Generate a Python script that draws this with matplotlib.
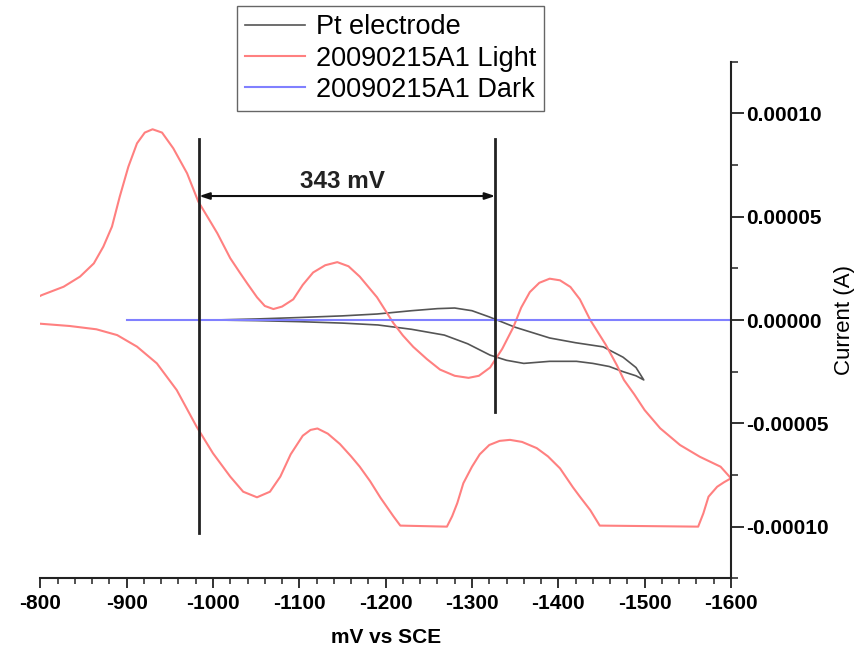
import numpy as np
import matplotlib.pyplot as plt
from matplotlib.ticker import MultipleLocator, FuncFormatter

plt.rcParams['font.family'] = ['Liberation Sans', 'DejaVu Sans']
plt.rcParams['axes.unicode_minus'] = False

# potentials in mV vs SCE, currents in units of 1e-5 A
pt_mv = [-1002, -1050, -1100, -1150, -1190, -1230, -1260, -1280, -1300, -1320,
         -1350, -1390, -1420, -1452, -1475, -1490, -1499,
         -1490, -1475, -1459, -1440, -1421, -1390, -1360, -1340, -1321, -1295,
         -1268, -1230, -1191, -1150, -1100, -1050, -1002]
pt_i = [0.0, 0.05, 0.12, 0.2, 0.29, 0.45, 0.55, 0.58, 0.45, 0.15,
        -0.35, -0.87, -1.1, -1.3, -1.8, -2.3, -2.9,
        -2.7, -2.5, -2.25, -2.1, -2.0, -2.0, -2.1, -1.95, -1.7, -1.15,
        -0.73, -0.45, -0.24, -0.15, -0.08, -0.03, 0.0]

light_mv = [-800, -834, -865, -889, -912, -935, -958, -981, -1000, -1020,
            -1035, -1051, -1066, -1078, -1090, -1104, -1113, -1121, -1133, -1147,
            -1160, -1170, -1182, -1194, -1209, -1217, -1271, -1277, -1283, -1290,
            -1300, -1309, -1320, -1332, -1344, -1358, -1375, -1388, -1402, -1417,
            -1425, -1437, -1448, -1562, -1568, -1574, -1584, -1592, -1600,
            -1588, -1564, -1541, -1518, -1500, -1488, -1476, -1468, -1455, -1437,
            -1425, -1414, -1402, -1390, -1378, -1367, -1357, -1348, -1335, -1321,
            -1308, -1296, -1280, -1263, -1248, -1232, -1220, -1209, -1190, -1180,
            -1170, -1157, -1144, -1130, -1116, -1104, -1093, -1080, -1070, -1060,
            -1051, -1040, -1031, -1020, -1005, -997, -983, -970, -954, -941,
            -930, -921, -912, -902, -892, -883, -873, -862, -846, -827,
            -802, -800]
light_i = [-0.18, -0.29, -0.45, -0.73, -1.29, -2.10, -3.39, -5.16, -6.45, -7.58,
           -8.31, -8.58, -8.31, -7.58, -6.5, -5.6, -5.32, -5.25, -5.5, -6.0,
           -6.6, -7.1, -7.8, -8.6, -9.5, -9.95, -10.0, -9.5, -8.86, -7.9,
           -7.1, -6.5, -6.05, -5.85, -5.8, -5.9, -6.2, -6.6, -7.18, -8.1,
           -8.55, -9.2, -9.95, -10.0, -9.36, -8.55, -8.07, -7.85, -7.66,
           -7.10, -6.62, -6.05, -5.24, -4.36, -3.6, -2.9, -2.2, -1.2, 0.0,
           1.0, 1.6, 1.92, 2.0, 1.8, 1.35, 0.6, -0.34, -1.4, -2.3,
           -2.7, -2.8, -2.7, -2.4, -1.9, -1.3, -0.75, -0.15, 1.1, 1.6,
           2.1, 2.6, 2.8, 2.65, 2.3, 1.7, 1.0, 0.65, 0.53, 0.68,
           1.1, 1.75, 2.3, 2.99, 4.2, 4.76, 5.73, 7.10, 8.31, 9.07,
           9.23, 9.07, 8.55, 7.42, 5.97, 4.52, 3.55, 2.74, 2.10, 1.61,
           1.21, 1.17]

dark_mv = [-900, -1600]
dark_i = [0.0, 0.0]

# peak separation markers
marker_mv = [-984, -1327]
marker_top = [8.76, 8.76]
marker_bottom = [-10.3, -4.45]
gap_text = '343 mV'
gap_text_mv = -1150

scale = 1e-5

fig = plt.figure(figsize=(8.67, 6.53), dpi=100)
ax = fig.add_axes([0.0465, 0.1144, 0.7966, 0.7911])

ax.plot(pt_mv, np.array(pt_i) * scale, color='#555555', lw=1.2, label='Pt electrode')
ax.plot(light_mv, np.array(light_i) * scale, color='#ff8080', lw=1.5, label='20090215A1 Light')
ax.plot(dark_mv, np.array(dark_i) * scale, color='#8080ff', lw=1.5, label='20090215A1 Dark')

for m, t, b in zip(marker_mv, marker_top, marker_bottom):
    ax.plot([m, m], [b * scale, t * scale], color='#222222', lw=2)

arrow_y = 6.0 * scale
ax.annotate('', xy=(marker_mv[0], arrow_y), xytext=(marker_mv[1], arrow_y),
            arrowprops=dict(arrowstyle='<|-|>,head_length=0.6,head_width=0.2',
                            color='#111111', lw=1.5, shrinkA=0, shrinkB=0))
ax.text(gap_text_mv, 6.7 * scale, gap_text, ha='center', va='center',
        fontsize=17.5, fontweight='bold', color='#222222')

ax.set_xlim(-800, -1600)
ax.set_ylim(-12.5 * scale, 12.5 * scale)

for s in ['left', 'top']:
    ax.spines[s].set_visible(False)
for s in ['bottom', 'right']:
    ax.spines[s].set_linewidth(1.5)
    ax.spines[s].set_color('#222222')

ax.yaxis.tick_right()
ax.yaxis.set_label_position('right')
ax.xaxis.set_major_locator(MultipleLocator(100))
ax.xaxis.set_minor_locator(MultipleLocator(20))
ax.yaxis.set_major_locator(MultipleLocator(5 * scale))
ax.yaxis.set_minor_locator(MultipleLocator(2.5 * scale))


def fmt_y(v, pos):
    if abs(v) < 1e-9:
        v = 0.0
    return '%.5f' % v


ax.yaxis.set_major_formatter(FuncFormatter(fmt_y))

ax.tick_params(axis='x', which='major', length=7, width=1.3, labelsize=15, pad=4, color='#222222')
ax.tick_params(axis='x', which='minor', length=4, width=1.1, color='#222222')
ax.tick_params(axis='y', which='major', length=9, width=1.3, labelsize=15, pad=2, color='#222222')
ax.tick_params(axis='y', which='minor', length=5, width=1.1, color='#222222')
for lab in ax.get_xticklabels() + ax.get_yticklabels():
    lab.set_fontweight('bold')

ax.set_xlabel('mV vs SCE', fontsize=15, fontweight='bold', labelpad=11)
ax.set_ylabel('Current (A)', fontsize=16, labelpad=4)

fig.legend(loc='upper left', bbox_to_anchor=(237 / 867, 1 - 6 / 653), fontsize=19.5,
           frameon=True, fancybox=False, edgecolor='#666666', framealpha=1,
           borderaxespad=0, handlelength=2.2, handletextpad=0.4, labelspacing=0.2,
           borderpad=0.3)

fig.savefig('out.png', dpi=100, facecolor='white')
